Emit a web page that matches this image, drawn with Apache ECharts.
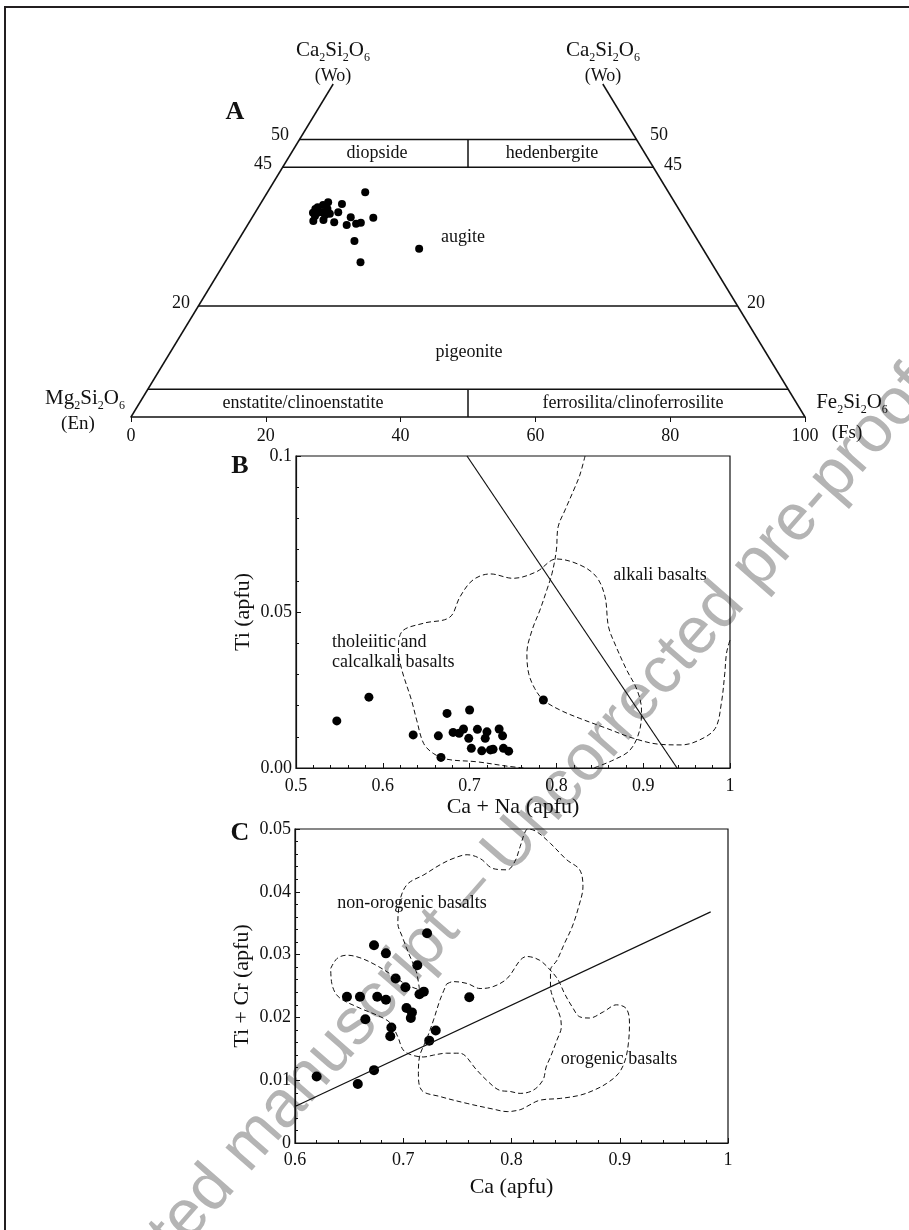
<!DOCTYPE html>
<html>
<head>
<meta charset="utf-8">
<script src="https://cdn.jsdelivr.net/npm/echarts@6/dist/echarts.min.js"></script>
<style>
  html, body { margin: 0; padding: 0; background: #fff; }
  #main { width: 909px; height: 1230px; }
</style>
</head>
<body>
<div id="main"></div>
<script>
// panel A - pyroxene quadrilateral, analyses as Wo / Fs (mol %)
const aWo = [40.5, 38.7, 38.4, 38.2, 37.8, 37.5, 37.5, 36.9, 36.9, 36.8, 36.8, 36.6, 36.4, 36.2, 35.3, 35.5, 35.1, 36.0, 35.9, 34.6, 34.8, 35.0, 31.7, 30.3, 27.9]
const aFs = [14.5, 9.9, 12.1, 9.4, 8.8, 8.6, 10.4, 9.9, 12.3, 8.6, 9.3, 11.2, 10.6, 9.2, 9.4, 10.8, 12.6, 14.6, 18.0, 14.7, 16.0, 16.6, 17.3, 27.6, 20.1]
// field boundaries, each segment as [Wo, Fs] end points
const aBounds = [
  [[0, 0], [60, 0]],
  [[0, 100], [60, 40]],
  [[50, 0], [50, 50]],
  [[45, 0], [45, 55]],
  [[20, 0], [20, 80]],
  [[5, 0], [5, 95]],
  [[45, 27.5], [50, 25]],
  [[0, 50], [5, 47.5]]
]

// panel B - Ti vs Ca + Na
const bCaNa = [0.547, 0.584, 0.635, 0.664, 0.667, 0.674, 0.700, 0.681, 0.688, 0.693, 0.699, 0.702, 0.709, 0.718, 0.720, 0.714, 0.724, 0.727, 0.734, 0.738, 0.739, 0.745, 0.785]
const bTi = [0.0151, 0.0227, 0.0106, 0.0103, 0.0034, 0.0175, 0.0186, 0.0114, 0.0111, 0.0125, 0.0095, 0.0063, 0.0124, 0.0095, 0.0116, 0.0055, 0.0058, 0.0060, 0.0125, 0.0103, 0.0063, 0.0054, 0.0218]
const bDivide = [[0.697, 0.1], [0.939, 0]]
const bTholeiitic = [[0.762, 0], [0.743, 0.0006], [0.708, 0.0020], [0.674, 0.0028], [0.658, 0.0047], [0.647, 0.0079], [0.639, 0.0154], [0.633, 0.0218], [0.622, 0.0314], [0.618, 0.0378], [0.622, 0.0437], [0.647, 0.0464], [0.677, 0.0483], [0.689, 0.0549], [0.704, 0.0603], [0.724, 0.0622], [0.750, 0.0608], [0.777, 0.0629], [0.800, 0.0670], [0.827, 0.0651], [0.846, 0.0613], [0.856, 0.0549], [0.860, 0.0453], [0.868, 0.0394], [0.881, 0.0314], [0.893, 0.0250], [0.898, 0.0186], [0.896, 0.0122], [0.885, 0.0058], [0.866, 0.0026], [0.843, 0]]
const bAlkali = [[0.833, 0.1], [0.827, 0.0939], [0.820, 0.0891], [0.810, 0.0827], [0.802, 0.0773], [0.800, 0.0699], [0.795, 0.0624], [0.789, 0.0571], [0.781, 0.0506], [0.772, 0.0442], [0.766, 0.0368], [0.768, 0.0304], [0.775, 0.0255], [0.785, 0.0218], [0.804, 0.0186], [0.827, 0.0159], [0.858, 0.0127], [0.889, 0.0095], [0.919, 0.0076], [0.944, 0.0074], [0.965, 0.0090], [0.983, 0.0127], [0.990, 0.0207], [0.994, 0.0304], [0.996, 0.0368], [1.0, 0.041]]

// panel C - Ti + Cr vs Ca
const cCa = [0.620, 0.658, 0.673, 0.648, 0.660, 0.665, 0.673, 0.676, 0.684, 0.684, 0.689, 0.688, 0.693, 0.702, 0.703, 0.708, 0.707, 0.713, 0.715, 0.719, 0.722, 0.730, 0.724, 0.761]
const cTiCr = [0.0106, 0.0094, 0.0116, 0.0233, 0.0233, 0.0197, 0.0315, 0.0233, 0.0302, 0.0228, 0.0184, 0.0170, 0.0262, 0.0248, 0.0215, 0.0208, 0.0199, 0.0283, 0.0237, 0.0241, 0.0334, 0.0179, 0.0163, 0.0232]
const cDivide = [[0.6, 0.0058], [0.984, 0.0368]]
const cNonOrogenic = [[0.633, 0.0278], [0.639, 0.0294], [0.648, 0.0299], [0.660, 0.0295], [0.675, 0.0283], [0.691, 0.0266], [0.703, 0.0252], [0.715, 0.0244], [0.712, 0.0273], [0.705, 0.0302], [0.699, 0.0329], [0.695, 0.0350], [0.696, 0.0376], [0.699, 0.0398], [0.705, 0.0414], [0.719, 0.0427], [0.734, 0.0443], [0.746, 0.0453], [0.759, 0.0459], [0.771, 0.0453], [0.783, 0.0437], [0.796, 0.0435], [0.803, 0.0448], [0.808, 0.0472], [0.812, 0.0493], [0.815, 0.05], [0.823, 0.0496], [0.836, 0.0477], [0.851, 0.0451], [0.863, 0.0435], [0.866, 0.0408], [0.862, 0.0376], [0.856, 0.0344], [0.849, 0.0318], [0.842, 0.0291], [0.836, 0.0275], [0.836, 0.0249], [0.839, 0.0228], [0.845, 0.0201], [0.846, 0.0185], [0.842, 0.0164], [0.836, 0.0137], [0.832, 0.0121], [0.829, 0.0100], [0.820, 0.0084], [0.808, 0.0079], [0.799, 0.0082], [0.789, 0.0084], [0.777, 0.0100], [0.768, 0.0116], [0.752, 0.0143], [0.740, 0.0143], [0.728, 0.0140], [0.719, 0.0137], [0.708, 0.0140], [0.700, 0.0148], [0.695, 0.0169], [0.688, 0.0191], [0.679, 0.0201], [0.657, 0.0217], [0.640, 0.0233], [0.634, 0.0254], [0.633, 0.0278]]
const cOrogenic = [[0.740, 0.0253], [0.746, 0.0257], [0.759, 0.0254], [0.771, 0.0246], [0.783, 0.0249], [0.796, 0.0262], [0.808, 0.0291], [0.814, 0.0297], [0.826, 0.0291], [0.836, 0.0275], [0.843, 0.0260], [0.849, 0.0238], [0.856, 0.0217], [0.863, 0.0201], [0.872, 0.0199], [0.885, 0.0209], [0.897, 0.0220], [0.906, 0.0214], [0.909, 0.0191], [0.908, 0.0159], [0.905, 0.0132], [0.899, 0.0111], [0.888, 0.0095], [0.876, 0.0084], [0.863, 0.0076], [0.845, 0.0071], [0.826, 0.0068], [0.814, 0.0058], [0.808, 0.0053], [0.796, 0.0050], [0.783, 0.0054], [0.759, 0.0063], [0.734, 0.0074], [0.717, 0.0084], [0.714, 0.0111], [0.715, 0.0137], [0.722, 0.0167], [0.728, 0.0196], [0.734, 0.0228], [0.740, 0.0253]]

const serif = '"Liberation Serif", "DejaVu Serif", serif'
const ink = '#111'

// Wo/Fs -> position on the quadrilateral (x along En-Fs, y = Wo)
const tern = (wo, fs) => [fs + wo / 2, wo]

const chart = echarts.init(document.getElementById('main'))

function txt(x, y, text, size, align, weight) {
  return {
    type: 'text', x: x, y: y, z: 50, silent: true,
    style: {
      text: text, font: (weight || '') + ' ' + size + 'px ' + serif,
      fill: ink, align: align || 'center', verticalAlign: 'middle'
    }
  }
}
function formula(x, y, el) {
  return {
    type: 'text', x: x, y: y, z: 50, silent: true,
    style: {
      text: '{n|' + el + '}{s|2}{n|Si}{s|2}{n|O}{s|6}',
      align: 'center', verticalAlign: 'middle', fill: ink,
      rich: {
        n: { fontFamily: serif, fontSize: 21, lineHeight: 22, verticalAlign: 'top', fill: ink },
        s: { fontFamily: serif, fontSize: 12, lineHeight: 12, padding: [12, 0, 0, 0], verticalAlign: 'top', fill: ink }
      }
    }
  }
}

function dashed(data, xi) {
  return {
    type: 'line', xAxisIndex: xi, yAxisIndex: xi, data: data, smooth: 0.35,
    symbol: 'none', silent: true,
    lineStyle: { color: ink, width: 1, type: [5, 3] }
  }
}
function solid(data, xi, w) {
  return {
    type: 'line', xAxisIndex: xi, yAxisIndex: xi, data: data,
    symbol: 'none', silent: true, clip: false,
    lineStyle: { color: ink, width: w || 1.2 }
  }
}
function dots(data, xi, size) {
  return {
    type: 'scatter', xAxisIndex: xi, yAxisIndex: xi, symbolSize: size,
    itemStyle: { color: '#000', opacity: 1 },
    data: data
  }
}

const axisText = { fontFamily: serif, fontSize: 18, color: ink }
const nameText = { fontFamily: serif, fontSize: 22, color: ink }
const fmt = v => String(+v.toFixed(2))
const boxAxis = {
  axisLine: { show: true, lineStyle: { color: ink, width: 1.2 } },
  axisTick: { show: true, inside: true, length: 5, lineStyle: { color: ink } },
  minorTick: { show: true, splitNumber: 5, length: 3, lineStyle: { color: ink } },
  splitLine: { show: false }
}

const series = []
aBounds.forEach(seg => series.push(solid(seg.map(p => tern(p[0], p[1])), 0, 1.5)))
series.push(dots(aWo.map((w, i) => tern(w, aFs[i])), 0, 8))
series.push(solid(bDivide, 1))
series.push(dashed(bTholeiitic, 1))
series.push(dashed(bAlkali, 1))
series.push(dots(bCaNa.map((v, i) => [v, bTi[i]]), 1, 9))
series.push(solid(cDivide, 2))
series.push(dashed(cNonOrogenic, 2))
series.push(dashed(cOrogenic, 2))
series.push(dots(cCa.map((v, i) => [v, cTiCr[i]]), 2, 10))

chart.setOption({
  animation: false,
  backgroundColor: '#fff',
  grid: [
    { left: 131, top: 28.5, width: 674, height: 388.5 },
    { left: 296, top: 456, width: 434, height: 312, show: true, borderColor: ink, borderWidth: 1.2 },
    { left: 295, top: 829, width: 433, height: 314, show: true, borderColor: ink, borderWidth: 1.2 }
  ],
  xAxis: [
    {
      gridIndex: 0, type: 'value', min: 0, max: 100, interval: 20,
      axisLine: { show: true, lineStyle: { color: ink, width: 1.5 } },
      axisTick: { show: true, length: 5, lineStyle: { color: ink } },
      axisLabel: Object.assign({ margin: 10 }, axisText),
      splitLine: { show: false }
    },
    Object.assign({
      gridIndex: 1, type: 'value', min: 0.5, max: 1, interval: 0.1,
      name: 'Ca + Na (apfu)', nameLocation: 'middle', nameGap: 27, nameTextStyle: nameText,
      axisLabel: Object.assign({ margin: 9, formatter: fmt }, axisText)
    }, boxAxis),
    Object.assign({
      gridIndex: 2, type: 'value', min: 0.6, max: 1, interval: 0.1,
      name: 'Ca (apfu)', nameLocation: 'middle', nameGap: 33, nameTextStyle: nameText,
      axisLabel: Object.assign({ margin: 8, formatter: fmt }, axisText)
    }, boxAxis)
  ],
  yAxis: [
    { gridIndex: 0, type: 'value', min: 0, max: 70, show: false },
    Object.assign({
      gridIndex: 1, type: 'value', min: 0, max: 0.1, interval: 0.05,
      name: 'Ti (apfu)', nameLocation: 'middle', nameGap: 42, nameTextStyle: nameText,
      axisLabel: Object.assign({
        margin: 4,
        formatter: v => v === 0 ? '0.00' : (v < 0.075 ? '0.05' : '0.1')
      }, axisText)
    }, boxAxis),
    Object.assign({
      gridIndex: 2, type: 'value', min: 0, max: 0.05, interval: 0.01,
      name: 'Ti + Cr (apfu)', nameLocation: 'middle', nameGap: 42, nameTextStyle: nameText,
      axisLabel: Object.assign({ margin: 4, formatter: fmt }, axisText)
    }, boxAxis)
  ],
  graphic: [
    {
      type: 'text', x: 921, y: 378, rotation: 0.852, z: -10, silent: true,
      style: {
        text: 'Accepted manuscript \u2013 Uncorrected pre-proof',
        font: '66px "Liberation Sans", Arial, sans-serif',
        fill: '#b4b4b4', align: 'right', verticalAlign: 'middle'
      }
    },
    {
      type: 'rect', z: 60, silent: true,
      shape: { x: 5, y: 7, width: 930, height: 1240 },
      style: { fill: null, stroke: '#231f20', lineWidth: 2 }
    },
    txt(235, 112, 'A', 26, 'center', 'bold'),
    txt(240, 466, 'B', 26, 'center', 'bold'),
    txt(240, 833, 'C', 26, 'center', 'bold'),
    formula(333, 51, 'Ca'),
    txt(333, 76, '(Wo)', 18),
    formula(603, 51, 'Ca'),
    txt(603, 76, '(Wo)', 18),
    formula(85, 399, 'Mg'),
    txt(78, 424, '(En)', 19),
    formula(852, 403, 'Fe'),
    txt(847, 433, '(Fs)', 19),
    txt(280, 135, '50', 18),
    txt(263, 164, '45', 18),
    txt(181, 303, '20', 18),
    txt(659, 135, '50', 18),
    txt(673, 165, '45', 18),
    txt(756, 303, '20', 18),
    txt(377, 153, 'diopside', 18),
    txt(552, 153, 'hedenbergite', 18),
    txt(463, 237, 'augite', 18),
    txt(469, 352, 'pigeonite', 18),
    txt(303, 403, 'enstatite/clinoenstatite', 18),
    txt(633, 403, 'ferrosilita/clinoferrosilite', 18),
    txt(332, 642, 'tholeiitic and', 18, 'left'),
    txt(332, 662, 'calcalkali basalts', 18, 'left'),
    txt(660, 575, 'alkali basalts', 18),
    txt(412, 903, 'non-orogenic basalts', 18),
    txt(619, 1059, 'orogenic basalts', 18)
  ],
  series: series
})
</script>
</body>
</html>
